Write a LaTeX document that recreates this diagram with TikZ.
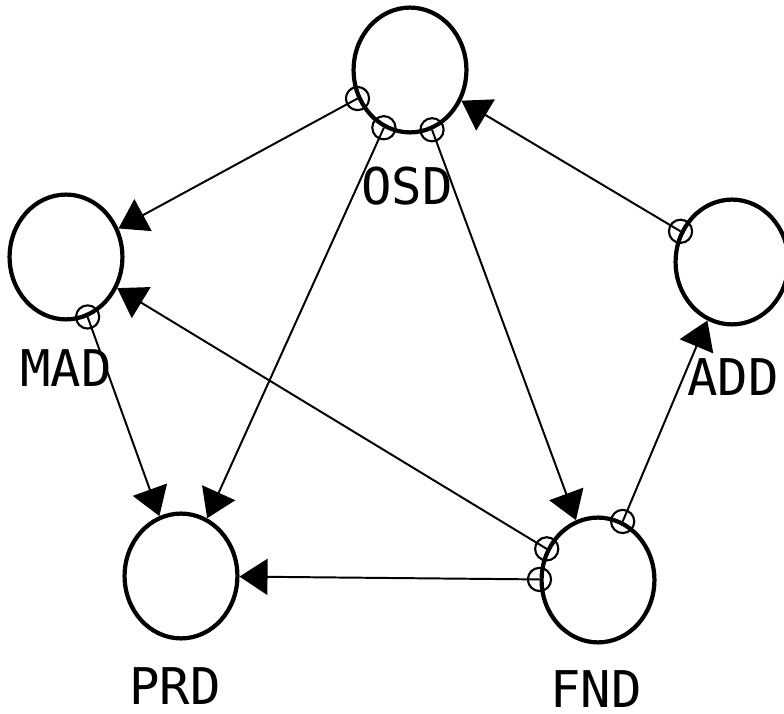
\documentclass[tikz,border=0pt]{standalone}
\usepackage{fontspec}
\newfontfamily\plotfont{DejaVu Sans Mono}
\usetikzlibrary{shapes,arrows.meta}

\tikzset{
    unit/.style={ellipse, draw, line width=3pt, minimum width=2.82cm,
        minimum height=3.12cm, inner sep=0pt},
    tag/.style={font=\plotfont\fontsize{36}{36}\selectfont, inner sep=0pt},
    port/.style={circle, draw, line width=1.5pt, minimum size=0.58cm, inner sep=0pt},
    flow/.style={line width=1.4pt, -{Triangle[length=0.7cm,width=0.9cm]}}
}

\begin{document}
\begin{tikzpicture}[x=0.025cm,y=-0.025cm]
    \useasboundingbox (0,0) rectangle (784,714);
    % units
    \node[unit] (osd) at (410,70) {};
    \node[unit] (mad) at (66,257) {};
    \node[unit] (add) at (732,262) {};
    \node[unit] (fnd) at (598,580) {};
    \node[unit] (prd) at (181,576) {};
    % names
    \node[tag] (osdname) at (407,186) {OSD};
    \node[tag] (madname) at (66,368) {MAD};
    \node[tag] (addname) at (733,377) {ADD};
    \node[tag] (fndname) at (596,689) {FND};
    \node[tag] (prdname) at (175,686) {PRD};
    % connections
    \foreach \a/\b in {osd/mad, osd/prd, osd/fnd, add/osd,
                       fnd/add, fnd/mad, fnd/prd, mad/prd}
        \draw[flow] (\a) -- node[port, pos=0] (p\a\b) {} (\b);
\end{tikzpicture}
\end{document}
